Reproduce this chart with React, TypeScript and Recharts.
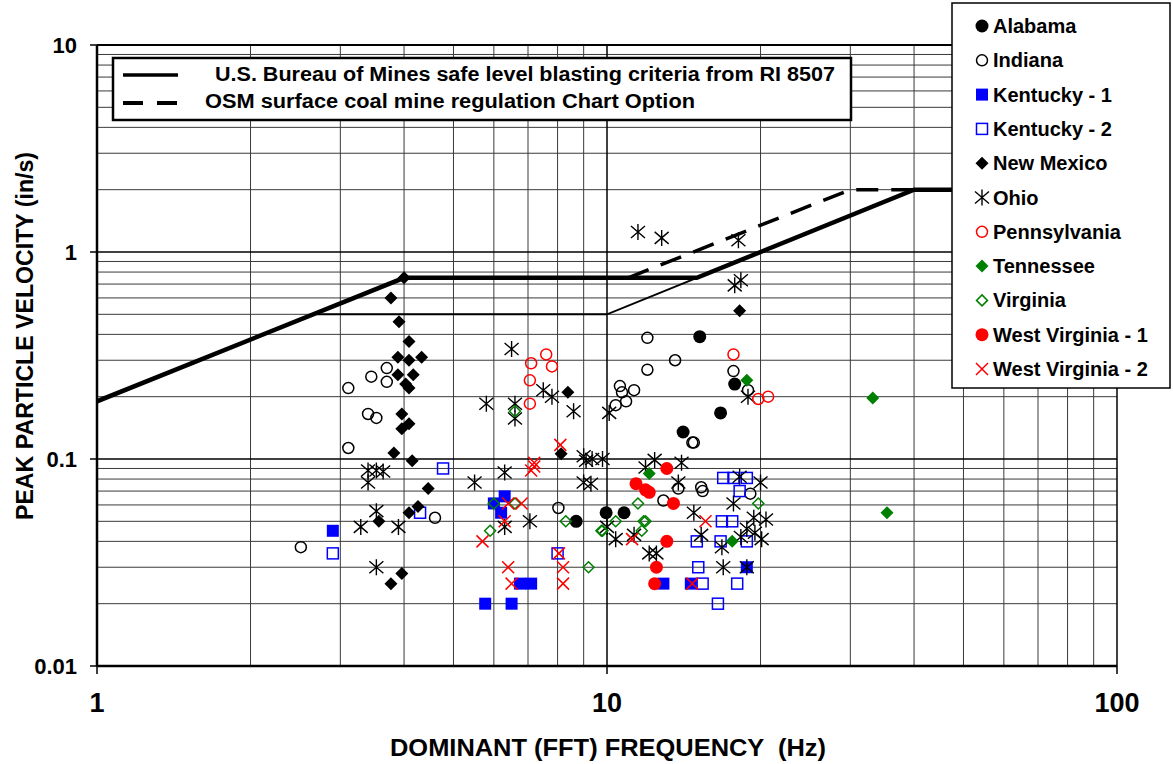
import React from "react";
import { ScatterChart, Scatter, XAxis, YAxis, ReferenceLine } from "recharts";

const FONT = "'Liberation Sans', Arial, Helvetica, sans-serif";

// [frequency Hz, peak particle velocity in/s]
const ALABAMA = [[15.2, 0.39], [17.8, 0.23], [16.7, 0.167], [14.1, 0.135], [9.96, 0.055], [10.8, 0.055], [8.7, 0.05]];
const INDIANA = [
  [3.7, 0.275], [3.45, 0.25], [3.11, 0.22], [3.7, 0.236], [3.4, 0.165], [3.53, 0.158], [3.11, 0.113], [4.6, 0.052],
  [2.51, 0.0375], [8.03, 0.058], [12.0, 0.385], [13.6, 0.3], [12.0, 0.27], [10.6, 0.225], [10.7, 0.21], [11.3, 0.215],
  [10.9, 0.19], [10.4, 0.182], [17.7, 0.266], [18.9, 0.215], [14.8, 0.12], [14.7, 0.12], [13.8, 0.072], [15.3, 0.073],
  [15.4, 0.07], [12.9, 0.063], [19.1, 0.068],
];
const KENTUCKY_1 = [[2.9, 0.045], [6.3, 0.066], [6.0, 0.061], [6.2, 0.055], [6.75, 0.025], [7.1, 0.025], [5.77, 0.02], [6.5, 0.02], [12.9, 0.025], [18.8, 0.03], [14.6, 0.025]];
const KENTUCKY_2 = [
  [2.9, 0.035], [4.3, 0.055], [4.77, 0.09], [8.0, 0.035], [16.9, 0.081], [17.7, 0.081], [18.8, 0.081], [18.2, 0.07],
  [16.8, 0.05], [17.6, 0.05], [15.0, 0.04], [16.7, 0.04], [18.8, 0.04], [15.1, 0.03], [15.4, 0.025], [18.0, 0.025], [16.5, 0.02],
];
const NEW_MEXICO = [
  [4.0, 0.75], [3.77, 0.6], [3.91, 0.46], [4.09, 0.37], [3.89, 0.31], [4.09, 0.3], [4.33, 0.31], [3.89, 0.255],
  [4.17, 0.255], [4.03, 0.23], [4.09, 0.22], [3.96, 0.165], [4.09, 0.148], [3.96, 0.14], [3.82, 0.107], [4.15, 0.098],
  [4.46, 0.072], [4.26, 0.059], [4.09, 0.055], [3.57, 0.05], [3.96, 0.028], [3.77, 0.025], [8.38, 0.21], [8.13, 0.106], [18.2, 0.52],
];
const OHIO = [
  [3.4, 0.088], [3.53, 0.088], [3.64, 0.087], [3.4, 0.077], [3.53, 0.056], [3.29, 0.047], [3.9, 0.047], [3.53, 0.03],
  [6.5, 0.34], [5.8, 0.185], [6.6, 0.185], [6.6, 0.157], [7.5, 0.215], [7.8, 0.2], [8.6, 0.17], [10.1, 0.167],
  [9.0, 0.103], [9.1, 0.098], [9.35, 0.1], [9.8, 0.1], [9.0, 0.077], [9.3, 0.076], [6.3, 0.086], [5.5, 0.077],
  [7.06, 0.05], [6.3, 0.047], [10.0, 0.047], [10.4, 0.041], [11.5, 1.25], [12.8, 1.17], [18.1, 1.14], [17.8, 0.69],
  [18.3, 0.73], [18.9, 0.2], [12.4, 0.099], [14.0, 0.096], [11.9, 0.091], [13.8, 0.077], [18.2, 0.082], [20.0, 0.077],
  [17.7, 0.061], [14.8, 0.055], [19.4, 0.052], [20.5, 0.051], [18.8, 0.046], [15.3, 0.043], [16.8, 0.0375], [11.3, 0.043],
  [20.1, 0.041], [19.5, 0.044], [12.1, 0.035], [12.5, 0.035], [16.9, 0.03], [18.8, 0.03], [18.3, 0.042],
];
const PENNSYLVANIA = [[7.6, 0.32], [7.1, 0.29], [7.8, 0.28], [7.06, 0.24], [7.06, 0.185], [17.7, 0.32], [19.8, 0.195], [20.7, 0.2]];
const TENNESSEE = [[18.8, 0.24], [12.1, 0.085], [17.6, 0.04], [33.2, 0.197], [35.4, 0.055]];
const VIRGINIA = [
  [6.6, 0.17], [6.0, 0.061], [6.6, 0.061], [5.9, 0.045], [8.3, 0.05], [9.75, 0.045], [9.2, 0.03], [11.5, 0.061],
  [10.4, 0.05], [9.8, 0.045], [11.9, 0.05], [11.8, 0.05], [11.7, 0.045], [19.8, 0.061],
];
const WEST_VIRGINIA_1 = [[13.1, 0.09], [11.4, 0.076], [11.9, 0.071], [12.1, 0.069], [13.5, 0.061], [13.1, 0.04], [12.5, 0.03], [12.4, 0.025]];
const WEST_VIRGINIA_2 = [
  [8.1, 0.117], [7.2, 0.096], [7.1, 0.088], [7.2, 0.092], [6.4, 0.061], [6.8, 0.061], [6.3, 0.05], [5.7, 0.04],
  [6.4, 0.03], [6.5, 0.025], [8.05, 0.035], [8.2, 0.03], [8.2, 0.025], [11.2, 0.041], [15.6, 0.05], [14.7, 0.025],
];

// criteria curves
const USBM_DRYWALL = [[1, 0.19], [4, 0.75], [15, 0.75], [40, 2.0], [100, 2.0]];
const USBM_PLASTER = [[2.7, 0.5], [10, 0.5], [15, 0.75]];
const OSM_CHART = [[11, 0.75], [30, 2.0], [40, 2.0]];

const X_TICKS = [1, 10, 100];
const Y_TICKS = [0.01, 0.1, 1, 10];
const X_MINOR = [2, 3, 4, 5, 6, 7, 8, 9, 20, 30, 40, 50, 60, 70, 80, 90];
const Y_MINOR = [0.02, 0.03, 0.04, 0.05, 0.06, 0.07, 0.08, 0.09, 0.2, 0.3, 0.4, 0.5, 0.6, 0.7, 0.8, 0.9, 2, 3, 4, 5, 6, 7, 8, 9];

const SERIES = [
  { name: "Alabama", kind: "alabama", pts: ALABAMA },
  { name: "Indiana", kind: "indiana", pts: INDIANA },
  { name: "Kentucky - 1", kind: "ky1", pts: KENTUCKY_1 },
  { name: "Kentucky - 2", kind: "ky2", pts: KENTUCKY_2 },
  { name: "New Mexico", kind: "nm", pts: NEW_MEXICO },
  { name: "Ohio", kind: "ohio", pts: OHIO },
  { name: "Pennsylvania", kind: "pa", pts: PENNSYLVANIA },
  { name: "Tennessee", kind: "tn", pts: TENNESSEE },
  { name: "Virginia", kind: "va", pts: VIRGINIA },
  { name: "West Virginia - 1", kind: "wv1", pts: WEST_VIRGINIA_1 },
  { name: "West Virginia - 2", kind: "wv2", pts: WEST_VIRGINIA_2 },
];

const toPts = (a: number[][]) => a.map(([f, v]) => ({ f, v }));

const diamond = (cx: number, cy: number, r: number) =>
  `${cx},${cy - r} ${cx + r},${cy} ${cx},${cy + r} ${cx - r},${cy}`;

function marker(kind: string, cx: number, cy: number) {
  switch (kind) {
    case "alabama":
      return <circle cx={cx} cy={cy} r={6.5} fill="#000" />;
    case "indiana":
      return <circle cx={cx} cy={cy} r={5.5} fill="none" stroke="#000" strokeWidth={1.5} />;
    case "ky1":
      return <rect x={cx - 6} y={cy - 6} width={12} height={12} fill="#0000FF" />;
    case "ky2":
      return <rect x={cx - 5.5} y={cy - 5.5} width={11} height={11} fill="none" stroke="#0000FF" strokeWidth={1.5} />;
    case "nm":
      return <polygon points={diamond(cx, cy, 6.5)} fill="#000" />;
    case "ohio":
      return (
        <path
          d={`M${cx},${cy - 8}L${cx},${cy + 8}M${cx - 7},${cy - 6}L${cx + 7},${cy + 6}M${cx - 7},${cy + 6}L${cx + 7},${cy - 6}`}
          stroke="#000"
          strokeWidth={1.4}
          fill="none"
        />
      );
    case "pa":
      return <circle cx={cx} cy={cy} r={5.5} fill="none" stroke="#FF0000" strokeWidth={1.5} />;
    case "tn":
      return <polygon points={diamond(cx, cy, 6.5)} fill="#008000" />;
    case "va":
      return <polygon points={diamond(cx, cy, 5.5)} fill="none" stroke="#008000" strokeWidth={1.5} />;
    case "wv1":
      return <circle cx={cx} cy={cy} r={6.5} fill="#FF0000" />;
    case "wv2":
      return (
        <path
          d={`M${cx - 6},${cy - 6}L${cx + 6},${cy + 6}M${cx - 6},${cy + 6}L${cx + 6},${cy - 6}`}
          stroke="#FF0000"
          strokeWidth={1.5}
          fill="none"
        />
      );
    default:
      return <g />;
  }
}

const YTick = (p: any) => (
  <text x={77} y={p.y + 8} textAnchor="end" fontSize={22} fontWeight={700} fontFamily={FONT} fill="#000">
    {String(p.payload.value)}
  </text>
);

const XTick = (p: any) => (
  <text x={p.x} y={712} textAnchor="middle" fontSize={27} fontWeight={700} fontFamily={FONT} fill="#000">
    {String(p.payload.value)}
  </text>
);

const noShape = () => <g />;

export default function App() {
  return (
    <div style={{ position: "absolute", left: 0, top: 0, width: 1173, height: 764, background: "#fff" }}>
      <ScatterChart width={1173} height={764} margin={{ top: 45, right: 56, left: 0, bottom: 0 }}>
        {X_MINOR.map((x) => (
          <ReferenceLine key={"vx" + x} x={x} stroke="#3a3a3a" strokeWidth={1} />
        ))}
        {Y_MINOR.map((y) => (
          <ReferenceLine key={"hy" + y} y={y} stroke="#3a3a3a" strokeWidth={1} />
        ))}
        <ReferenceLine x={10} stroke="#000" strokeWidth={1.5} />
        <ReferenceLine y={0.1} stroke="#000" strokeWidth={1.5} />
        <ReferenceLine y={1} stroke="#000" strokeWidth={1.5} />
        <ReferenceLine y={10} stroke="#000" strokeWidth={2} />
        <ReferenceLine x={100} stroke="#000" strokeWidth={1.5} />
        <XAxis
          dataKey="f"
          type="number"
          scale="log"
          domain={[1, 100]}
          ticks={X_TICKS}
          interval={0}
          allowDataOverflow
          height={98}
          tickSize={8}
          axisLine={{ stroke: "#000", strokeWidth: 2.5 }}
          tickLine={{ stroke: "#000", strokeWidth: 1.5 }}
          tick={XTick}
        />
        <YAxis
          dataKey="v"
          type="number"
          scale="log"
          domain={[0.01, 10]}
          ticks={Y_TICKS}
          interval={0}
          allowDataOverflow
          width={97}
          tickSize={7}
          axisLine={{ stroke: "#000", strokeWidth: 2.5 }}
          tickLine={{ stroke: "#000", strokeWidth: 1.5 }}
          tick={YTick}
        />
        <Scatter
          data={toPts(USBM_DRYWALL)}
          line={{ stroke: "#000", strokeWidth: 4.5 }}
          lineType="joint"
          shape={noShape}
          isAnimationActive={false}
        />
        <Scatter
          data={toPts(USBM_PLASTER)}
          line={{ stroke: "#000", strokeWidth: 2 }}
          lineType="joint"
          shape={noShape}
          isAnimationActive={false}
        />
        <Scatter
          data={toPts(OSM_CHART)}
          line={{ stroke: "#000", strokeWidth: 3.5, strokeDasharray: "22 13" }}
          lineType="joint"
          shape={noShape}
          isAnimationActive={false}
        />
        {SERIES.map((s) => (
          <Scatter
            key={s.name}
            name={s.name}
            data={toPts(s.pts)}
            shape={(p: any) => marker(s.kind, p.cx, p.cy)}
            isAnimationActive={false}
          />
        ))}
      </ScatterChart>

      <svg
        width={1173}
        height={764}
        style={{ position: "absolute", left: 0, top: 0, pointerEvents: "none" }}
        fontFamily={FONT}
        fontWeight={700}
      >
        {/* axis titles */}
        <text
          x={0}
          y={0}
          transform="translate(33,336) rotate(-90)"
          textAnchor="middle"
          fontSize={23}
          textLength={368}
          lengthAdjust="spacingAndGlyphs"
        >
          PEAK PARTICLE VELOCITY (in/s)
        </text>
        <text
          x={608}
          y={756}
          textAnchor="middle"
          fontSize={24}
          textLength={436}
          lengthAdjust="spacingAndGlyphs"
          style={{ whiteSpace: "pre" }}
        >
          {"DOMINANT (FFT) FREQUENCY  (Hz)"}
        </text>

        {/* criteria legend */}
        <rect x={113} y={58} width={738} height={62} fill="#fff" stroke="#000" strokeWidth={2.5} />
        <line x1={123} y1={75} x2={178} y2={75} stroke="#000" strokeWidth={3.5} />
        <line x1={123} y1={103} x2={178} y2={103} stroke="#000" strokeWidth={4} strokeDasharray="20 14" />
        <text x={215} y={81} fontSize={20} textLength={620} lengthAdjust="spacingAndGlyphs">
          U.S. Bureau of Mines safe level blasting criteria from RI 8507
        </text>
        <text x={205} y={108} fontSize={20} textLength={490} lengthAdjust="spacingAndGlyphs">
          OSM surface coal mine regulation Chart Option
        </text>

        {/* state legend */}
        <rect x={952} y={3} width={218} height={385} fill="#fff" stroke="#000" strokeWidth={1.5} />
        {SERIES.map((s, i) => {
          const cy = 26 + i * 34.3;
          return (
            <g key={s.name}>
              {marker(s.kind, 982, cy)}
              <text x={993} y={cy + 7} fontSize={20}>
                {s.name}
              </text>
            </g>
          );
        })}
      </svg>
    </div>
  );
}
